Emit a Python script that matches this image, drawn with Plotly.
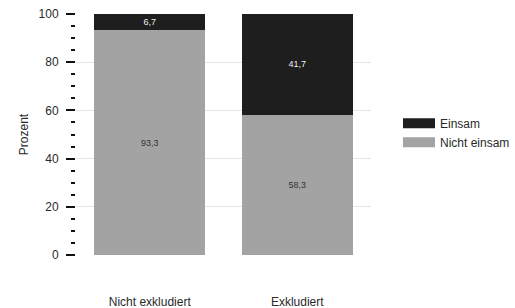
import plotly.graph_objects as go

categories = ["Nicht exkludiert", "Exkludiert"]
nicht_einsam = [93.3, 58.3]
einsam = [6.7, 41.7]
series_names = ["Nicht einsam", "Einsam"]
y_ticks = [0, 20, 40, 60, 80, 100]

dark = "#1e1e1e"
grey = "#a3a3a3"
font = "Arial"
txt = "#2a2a2a"

fig = go.Figure()
fig.add_trace(go.Bar(
    x=categories, y=nicht_einsam, name=series_names[0],
    marker=dict(color=grey, line=dict(width=0)),
    texttemplate="%{y:.1f}", textposition="inside", insidetextanchor="middle",
    textfont=dict(size=9, color="#333333", family=font), showlegend=False,
))
fig.add_trace(go.Bar(
    x=categories, y=einsam, name=series_names[1],
    marker=dict(color=dark, line=dict(width=0)),
    texttemplate="%{y:.1f}", textposition="inside", insidetextanchor="middle",
    textfont=dict(size=9, color="#f0f0f0", family=font), showlegend=False,
))
# legend-only entries (wide swatches)
for name, col in [(series_names[0], grey), (series_names[1], dark)]:
    fig.add_trace(go.Scatter(x=[None], y=[None], mode="lines", name=name,
                             line=dict(color=col, width=12), showlegend=True))

fig.update_layout(
    width=515, height=308,
    barmode="stack", bargap=0.25,
    separators=",.",
    paper_bgcolor="white", plot_bgcolor="white",
    margin=dict(l=76, r=144, t=14, b=53, autoexpand=False),
    font=dict(family=font, size=12, color=txt),
    legend=dict(x=1.0915, xanchor="left", y=0.507, yanchor="middle", itemwidth=32,
                traceorder="reversed", font=dict(size=12, color=txt, family=font),
                tracegroupgap=0, bgcolor="rgba(0,0,0,0)"),
    xaxis=dict(range=[-0.5, 1.5], showgrid=False, showline=False, ticks="",
               zeroline=False, ticklabelstandoff=38, automargin=False,
               ticklabeloverflow="allow",
               tickfont=dict(size=12, color=txt, family=font)),
    yaxis=dict(range=[0, 100], tickvals=y_ticks, showgrid=True, gridcolor="#e6e6e6",
               gridwidth=1, zeroline=False, showline=False, automargin=False,
               ticks="outside", ticklen=9, tickwidth=2, tickcolor="#111111",
               ticklabelstandoff=5, ticklabeloverflow="allow",
               minor=dict(dtick=5, ticks="outside", ticklen=4, tickwidth=2,
                          tickcolor="#111111", showgrid=False),
               title=dict(text="Prozent", font=dict(size=12, color=txt, family=font), standoff=7),
               tickfont=dict(size=12, color=txt, family=font)),
)

fig.write_html(
    "out.html",
    config={"displayModeBar": False},
    post_script="document.body.style.margin='0px';document.documentElement.style.overflow='hidden';document.body.style.overflow='hidden';",
)
